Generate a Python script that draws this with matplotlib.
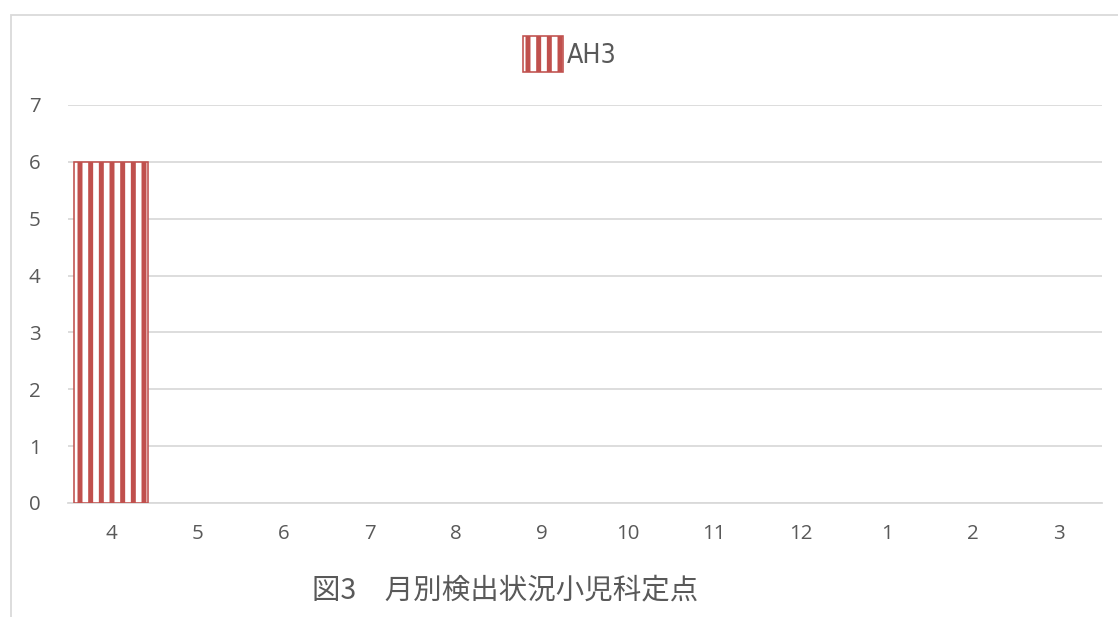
import matplotlib
matplotlib.use("Agg")
import matplotlib.pyplot as plt
from matplotlib.patches import Rectangle

# monthly detections (fiscal year, April to March)
months = ['4', '5', '6', '7', '8', '9', '10', '11', '12', '1', '2', '3']
ah3 = [6, 0, 0, 0, 0, 0, 0, 0, 0, 0, 0, 0]
series_name = 'AH3'
chart_title = '図3\u3000月別検出状況小児科定点'

DPI = 128
W, H = 1118, 617
red = '#C0504D'
grid_gray = '#D9D9D9'
text_gray = '#595959'

plt.rcParams['hatch.linewidth'] = 2.8

fig = plt.figure(figsize=(W / DPI, H / DPI), dpi=DPI)
ax = fig.add_axes([68 / W, 1 - 503 / H, (1102 - 68) / W, (503 - 105) / H])

x = range(len(months))
# empty months get no outline
edges = [red if v > 0 else 'none' for v in ah3]
ax.bar(x, ah3, width=0.85, color='white', edgecolor=edges, hatch='||',
       linewidth=0.9, label=series_name, zorder=3)

ax.set_xlim(-0.5, len(months) - 0.5)
ax.set_ylim(0, 7)
ax.set_yticks(range(0, 8))
ax.set_xticks(list(x))
ax.set_xticklabels(months)

for s in ['top', 'right', 'left']:
    ax.spines[s].set_visible(False)
ax.spines['bottom'].set_color(grid_gray)
ax.spines['bottom'].set_linewidth(1.0)
ax.yaxis.grid(True, color=grid_gray, linewidth=1.0)
ax.set_axisbelow(True)
ax.tick_params(axis='both', length=0, colors=text_gray, labelsize=11.5)
ax.tick_params(axis='y', pad=15.5)
ax.tick_params(axis='x', pad=12)
for lab in ax.get_xticklabels() + ax.get_yticklabels():
    lab.set_family(['Open Sans', 'DejaVu Sans'])

leg = fig.legend(loc='center', bbox_to_anchor=(570 / W, 1 - 54 / H),
                 frameon=False, handlelength=1.5, handleheight=1.75,
                 handletextpad=0.15, borderpad=0, borderaxespad=0,
                 prop={'family': 'DejaVu Sans', 'stretch': 'condensed',
                       'size': 15})
for t in leg.get_texts():
    t.set_color(text_gray)
for h in leg.legend_handles:
    h.set_edgecolor(red)

fig.text(505 / W, 1 - 590 / H, chart_title, ha='center', va='center',
         color=text_gray, fontsize=16,
         family=['Noto Sans CJK JP', 'DejaVu Sans'])

# chart area frame
fig.patches.append(Rectangle((11 / W, -0.1), 1.2, 1 - 15 / H + 0.1,
                             transform=fig.transFigure, fill=False,
                             edgecolor=grid_gray, linewidth=1.0))

fig.savefig('out.png', dpi=DPI)
